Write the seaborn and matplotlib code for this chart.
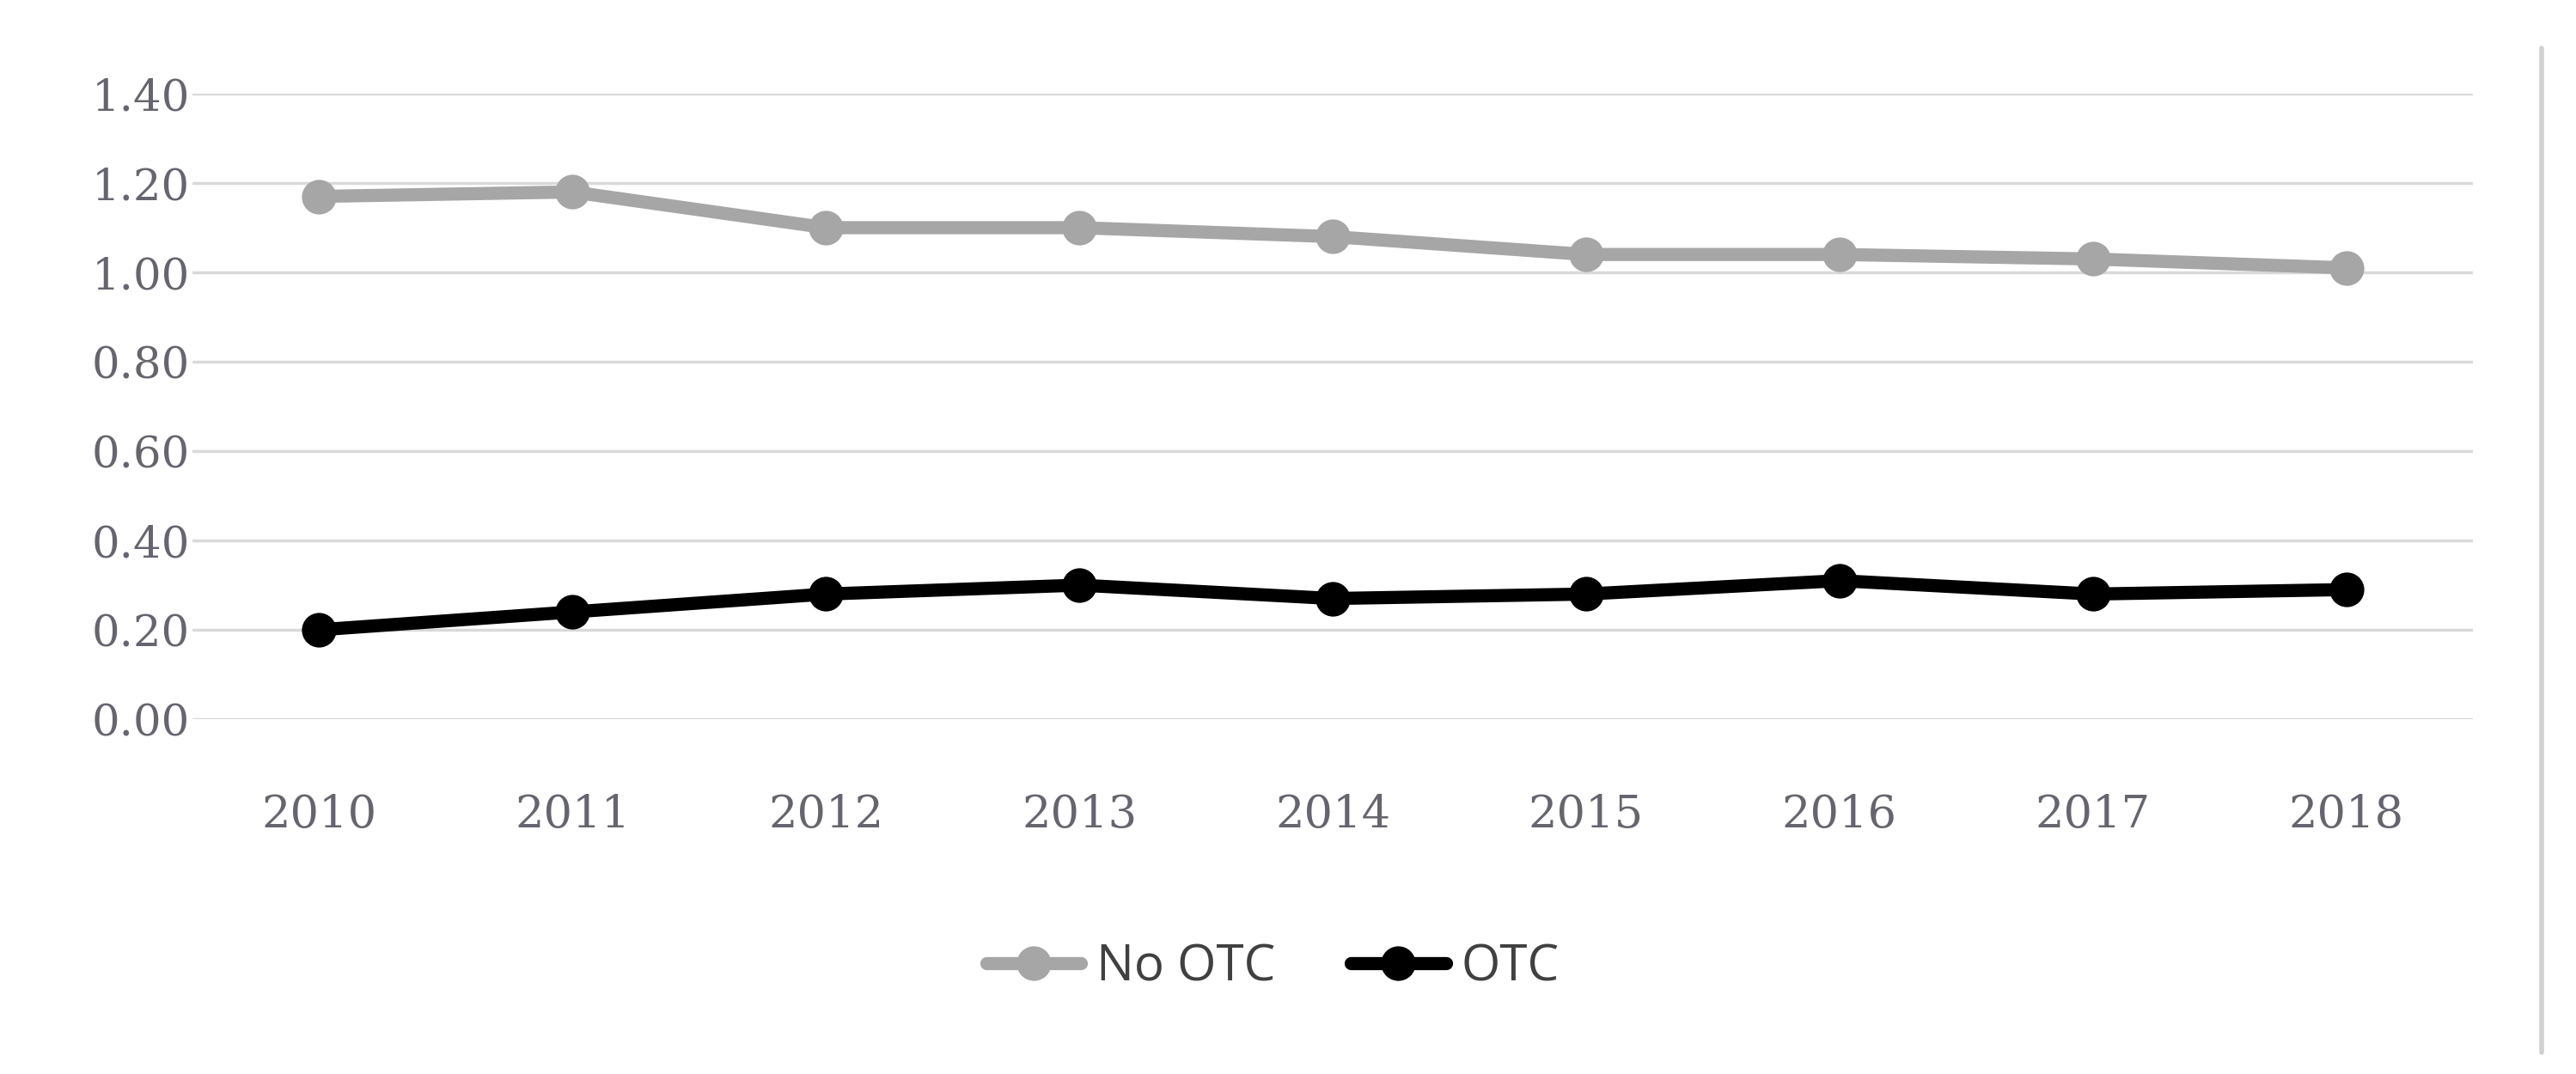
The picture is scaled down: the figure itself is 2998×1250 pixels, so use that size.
import matplotlib
matplotlib.use("Agg")
import pandas as pd
import seaborn as sns
from matplotlib import pyplot as plt
from matplotlib.lines import Line2D

years = [2010, 2011, 2012, 2013, 2014, 2015, 2016, 2017, 2018]
no_otc = [1.17, 1.18, 1.10, 1.10, 1.08, 1.04, 1.04, 1.03, 1.01]
otc = [0.20, 0.24, 0.28, 0.30, 0.27, 0.28, 0.31, 0.28, 0.29]
series = ["No OTC", "OTC"]
colors = {"No OTC": "#a6a6a6", "OTC": "#000000"}
yticks = [0.0, 0.2, 0.4, 0.6, 0.8, 1.0, 1.2, 1.4]

df = pd.DataFrame(
    {
        "year": years * 2,
        "value": no_otc + otc,
        "series": ["No OTC"] * len(years) + ["OTC"] * len(years),
    }
)

sns.set_style("white")
fig = plt.figure(figsize=(29.98, 12.5), dpi=100)
ax = fig.add_axes([0.0747, 0.3304, 0.8853, 0.5824])

sns.lineplot(
    data=df, x="year", y="value", hue="series", palette=colors,
    marker="o", markersize=29, linewidth=11, markeredgewidth=0,
    legend=False, ax=ax, clip_on=False, zorder=3,
)

ax.set_xlim(years[0] - 0.5, years[-1] + 0.5)
ax.set_ylim(0, 1.4)
ax.set_xticks(years)
ax.set_yticks(yticks)
ax.set_yticklabels([f"{v:.2f}" for v in yticks])
ax.yaxis.grid(True, color="#d9d9d9", linewidth=2.5)
ax.xaxis.grid(False)
for s in ax.spines.values():
    s.set_visible(False)
ax.set_xlabel("")
ax.set_ylabel("")
ax.tick_params(axis="y", length=0, pad=2, labelsize=37, labelcolor="#66646e")
ax.tick_params(axis="x", length=0, pad=62, labelsize=38, labelcolor="#66646e")
for lab in ax.get_xticklabels() + ax.get_yticklabels():
    lab.set_fontfamily("DejaVu Serif")

handles = [
    Line2D([], [], color=colors[s], marker="o", markersize=29, linewidth=11,
           markeredgewidth=0)
    for s in series
]
fig.legend(
    handles, series, loc="center", bbox_to_anchor=(0.494, 0.099), ncol=2,
    frameon=False, handlelength=1.9, columnspacing=1.5, handletextpad=0.3,
    prop={"family": "Open Sans", "size": 42}, labelcolor="#404040",
)

# thin frame line on the right edge
fig.add_artist(Line2D([0.9866, 0.9866], [0.02, 0.955], color="#d0d0d0",
                      linewidth=4, transform=fig.transFigure))

fig.savefig("out.png", dpi=100, facecolor="white")
